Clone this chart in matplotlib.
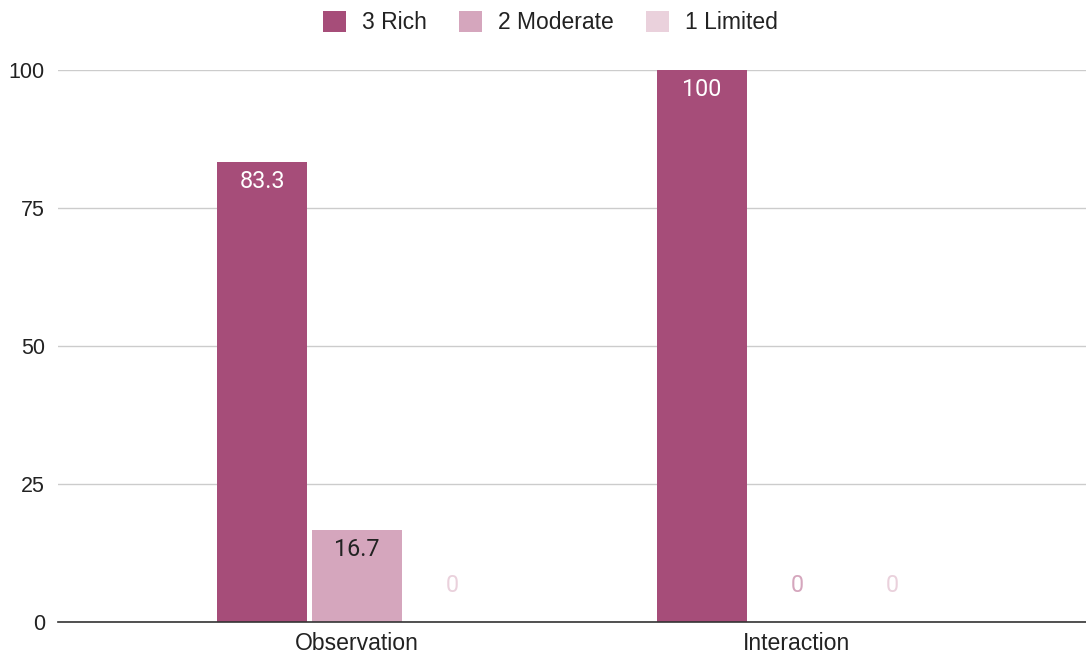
import matplotlib
matplotlib.use("Agg")
import matplotlib.pyplot as plt
import numpy as np

categories = ["Observation", "Interaction"]
series_names = ["3 Rich", "2 Moderate", "1 Limited"]
rich = [83.3, 100]
moderate = [16.7, 0]
limited = [0, 0]
yticks = [0, 25, 50, 75, 100]

colors = ["#A64D79", "#D5A6BD", "#EAD1DC"]
inside_text = ["white", "#222222", "#222222"]

fig = plt.figure(figsize=(10.86, 6.57), dpi=100)
ax = fig.add_axes([0.0534, 0.0533, 0.9466, 0.8402])

x = np.arange(len(categories))
step = 0.216
width = 0.205
all_series = [rich, moderate, limited]

for i, (name, vals) in enumerate(zip(series_names, all_series)):
    pos = x + (i - 1) * step
    bars = ax.bar(pos, vals, width=width, color=colors[i], label=name, zorder=3)
    for b, v in zip(bars, vals):
        cx = b.get_x() + b.get_width() / 2
        label = f"{v:g}"
        if v > 0:
            ax.annotate(label, (cx, v), xytext=(0, -14), textcoords="offset points",
                        ha="center", va="center", fontsize=16.8, family="Roboto",
                        color=inside_text[i], zorder=4)
        else:
            ax.annotate(label, (cx, v), xytext=(0, 26.6), textcoords="offset points",
                        ha="center", va="center", fontsize=16.8, family="Roboto",
                        color=colors[i], zorder=4)

ax.set_xlim(-0.68, 1.657)
ax.set_ylim(0, 100)
ax.set_yticks(yticks)
ax.set_yticklabels([str(t) for t in yticks])
ax.set_xticks(x)
ax.set_xticklabels(categories)

ax.grid(axis="y", color="#cccccc", linewidth=1, zorder=0)
ax.set_axisbelow(True)
for s in ["top", "right", "left"]:
    ax.spines[s].set_visible(False)
ax.spines["bottom"].set_color("#333333")
ax.spines["bottom"].set_linewidth(1.2)
ax.spines["bottom"].set_zorder(5)

ax.tick_params(axis="both", length=0, labelcolor="#222222")
ax.tick_params(axis="y", pad=9.5, labelsize=15.5)
ax.tick_params(axis="x", pad=7.5, labelsize=16.6)
for lab in ax.get_xticklabels() + ax.get_yticklabels():
    lab.set_family(["Liberation Sans", "DejaVu Sans"])

fig.legend(loc="center", bbox_to_anchor=(0.507, 0.9655), ncol=3, frameon=False,
           prop={"family": ["Liberation Sans", "DejaVu Sans"], "size": 16.5},
           handlelength=1.0, handleheight=1.0, handletextpad=0.7,
           columnspacing=1.4, labelcolor="#222222")

fig.savefig("out.png", dpi=100)
